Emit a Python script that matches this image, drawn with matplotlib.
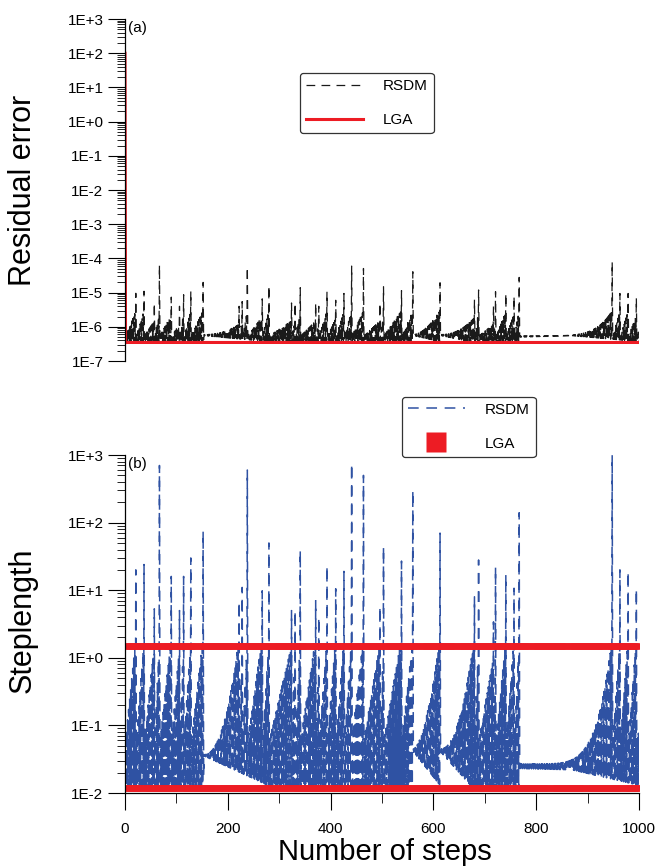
import numpy as np
import matplotlib
matplotlib.use("Agg")
import matplotlib.pyplot as plt
from matplotlib.ticker import LogLocator, FuncFormatter, MultipleLocator, NullFormatter

plt.rcParams['font.family'] = ['Liberation Sans', 'DejaVu Sans']

n_steps = 1000

# steps where RSDM restarts after a spike, with the spike heights
cycle_end = [21, 37, 57, 67, 90, 106, 114, 128, 152,
             222, 228, 238, 267, 280,
             324, 331, 341, 371, 377, 393,
             410, 426, 441, 464, 496, 503, 538, 560,
             613, 680, 688, 717, 721, 741, 757, 767,
             948, 963, 979, 995]
step_peak = [20, 24, 5.3, 700, 16, 5, 16, 30, 75,
             6.8, 11, 600, 9.8, 50,
             5, 5, 39, 7, 4, 23,
             10.5, 19, 750, 500, 5.8, 44, 27, 300,
             70, 8, 28, 3.4, 22, 17, 10.7, 140,
             1000, 20, 19, 10.5]
res_peak = [9.6e-6, 1.1e-5, 5e-6, 6.5e-5, 7.4e-6, 4e-6, 8.7e-6, 1.1e-5, 2e-5,
            4e-6, 5.5e-6, 5.6e-5, 6.6e-6, 1.6e-5,
            5e-6, 5e-6, 1.4e-5, 5e-6, 4e-6, 1.07e-5,
            6e-6, 9.5e-6, 6e-5, 5.1e-5, 5e-6, 1.5e-5, 1.15e-5, 4.1e-5,
            1.95e-5, 6.3e-6, 1.2e-5, 4e-6, 1.07e-5, 9.5e-6, 7.9e-6, 2.8e-5,
            8e-5, 9.5e-6, 9.5e-6, 7e-6]
# first large value after each restart
step_h0 = [0.06, 0.06, 0.06, 0.06, 0.06, 0.06, 0.06, 0.06, 0.06,
           0.037, 0.06, 0.06, 0.06, 0.06,
           0.06, 0.06, 0.06, 0.06, 0.06, 0.06,
           0.06, 0.06, 0.06, 0.06, 0.06, 0.06, 0.06, 0.06,
           0.045, 0.045, 0.06, 0.06, 0.06, 0.06, 0.06, 0.06,
           0.027, 0.06, 0.06, 0.06]
res_h0 = [5.5e-7, 5.5e-7, 5.5e-7, 5.5e-7, 5.5e-7, 5.5e-7, 5.5e-7, 5.5e-7, 5.5e-7,
          6e-7, 5.5e-7, 5.5e-7, 5.5e-7, 5.5e-7,
          5.5e-7, 5.5e-7, 5.5e-7, 5.5e-7, 5.5e-7, 5.5e-7,
          5.5e-7, 5.5e-7, 5.5e-7, 5.5e-7, 5.5e-7, 5.5e-7, 5.5e-7, 5.5e-7,
          6e-7, 6e-7, 5.5e-7, 5.5e-7, 5.5e-7, 5.5e-7, 5.5e-7, 5.5e-7,
          5.5e-7, 5.5e-7, 5.5e-7, 5.5e-7]

# lower edge of the RSDM band
low_knot_step = [0, 152, 155, 278, 560, 562, 613, 615, 672, 767, 769, 870, 1000]
step_low_knot = [0.013, 0.013, 0.035, 0.013, 0.013, 0.04, 0.013, 0.04, 0.013,
                 0.013, 0.023, 0.022, 0.013]
res_low_knot = [3.7e-7, 3.7e-7, 5.5e-7, 3.7e-7, 3.7e-7, 5.5e-7, 3.7e-7, 5.5e-7,
                3.7e-7, 3.7e-7, 5e-7, 5.5e-7, 3.7e-7]

res_start = 100.0
lga_res_level = 3.5e-7
lga_step_big = 1.5
lga_step_small = 0.0118


def rsdm_series(peaks, h0s, low_knots, cap):
    k = np.arange(n_steps + 1)
    y = 10 ** np.interp(k, low_knot_step, np.log10(low_knots))
    s = 1
    for e, p, h0 in zip(cycle_end + [n_steps + 1], peaks + [None], h0s + [h0s[0]]):
        n = max(e - s, 1)
        pw = 1.0 if n <= 45 else n / 30.0
        pre = max(min(0.3 * p, cap), h0) if p is not None else h0 * 1.5
        for j in range(s, min(e, n_steps + 1)):
            if (e - j) % 2 == 0:
                t = (j - s) / n
                y[j] = 10 ** (np.log10(h0) + (np.log10(pre) - np.log10(h0)) * t ** pw)
        if p is not None:
            y[e] = p
        s = e + 1
    return k, y


steps, rsdm_res = rsdm_series(res_peak, res_h0, res_low_knot, 3e-6)
rsdm_res[0] = res_start
_, rsdm_step = rsdm_series(step_peak, step_h0, step_low_knot, 2.0)

lga_res = np.full(n_steps + 1, lga_res_level)
lga_res[0] = res_start
lga_k = np.arange(1, n_steps + 1)
lga_step = np.where(lga_k % 2 == 1, lga_step_big, lga_step_small)

blue = '#2f52a3'
red = '#ed1c24'
dash = (0, (7, 5))

fig = plt.figure(figsize=(6.58, 8.68), dpi=100)
ax1 = fig.add_axes([0.19, 0.584, 0.781, 0.394])
ax2 = fig.add_axes([0.19, 0.0864, 0.781, 0.3894])

ax1.plot(steps, rsdm_res, color='#1a1a1a', lw=0.9, ls=dash, label='RSDM')
ax1.plot(steps, lga_res, color=red, lw=2.2, label='LGA')
ax1.set_ylim(1e-7, 1e3)

ax2.plot(steps, rsdm_step, color=blue, lw=1.1, ls=dash, label='RSDM')
ax2.plot(lga_k, lga_step, ls='none', marker='s', ms=4.3, mec='none', color=red, label='LGA')
ax2.set_ylim(1e-2, 1e3)

fmt = FuncFormatter(lambda v, pos: f"1E{int(round(np.log10(v))):+d}")
for ax in (ax1, ax2):
    ax.set_yscale('log')
    ax.set_xlim(0, 1000)
    ax.yaxis.set_major_locator(LogLocator(base=10, numticks=20))
    ax.yaxis.set_minor_locator(LogLocator(base=10, subs=np.arange(2, 10), numticks=20))
    ax.yaxis.set_major_formatter(fmt)
    ax.yaxis.set_minor_formatter(NullFormatter())
    ax.spines['top'].set_visible(False)
    ax.spines['right'].set_visible(False)
    ax.spines['left'].set_linewidth(0.9)
    ax.tick_params(axis='y', which='major', direction='out', length=12, width=0.8, labelsize=11)
    ax.tick_params(axis='y', which='minor', direction='out', length=6, width=0.6)

ax1.spines['bottom'].set_visible(False)
ax1.tick_params(axis='x', which='both', bottom=False, labelbottom=False)

ax2.spines['bottom'].set_linewidth(0.9)
ax2.xaxis.set_major_locator(MultipleLocator(200))
ax2.xaxis.set_minor_locator(MultipleLocator(100))
ax2.tick_params(axis='x', which='major', direction='out', length=12, width=0.8, labelsize=11, pad=9)
ax2.tick_params(axis='x', which='minor', direction='out', length=7, width=0.6)

ax1.text(0.006, 0.995, '(a)', transform=ax1.transAxes, fontsize=11, va='top', ha='left')
ax2.text(0.006, 0.995, '(b)', transform=ax2.transAxes, fontsize=11, va='top', ha='left')

fig.text(0.035, 0.781, 'Residual error', rotation=90, fontsize=22, ha='center', va='center')
fig.text(0.035, 0.286, 'Steplength', rotation=90, fontsize=22, ha='center', va='center')
fig.text(0.585, 0.019, 'Number of steps', fontsize=21, ha='center', va='center')

leg_kw = dict(fontsize=11, handlelength=3.7, handletextpad=1.3, labelspacing=1.3,
              borderpad=0.4, borderaxespad=0, fancybox=True, framealpha=1)
l1 = ax1.legend(loc='upper left', bbox_to_anchor=(0.456, 0.916),
                bbox_transform=fig.transFigure, **leg_kw)
l2 = ax2.legend(loc='upper left', bbox_to_anchor=(0.611, 0.543),
                bbox_transform=fig.transFigure, markerscale=3.3, **leg_kw)
for l in (l1, l2):
    l.get_frame().set_edgecolor('#333333')
    l.get_frame().set_linewidth(0.9)

fig.savefig('out.png', dpi=100)
